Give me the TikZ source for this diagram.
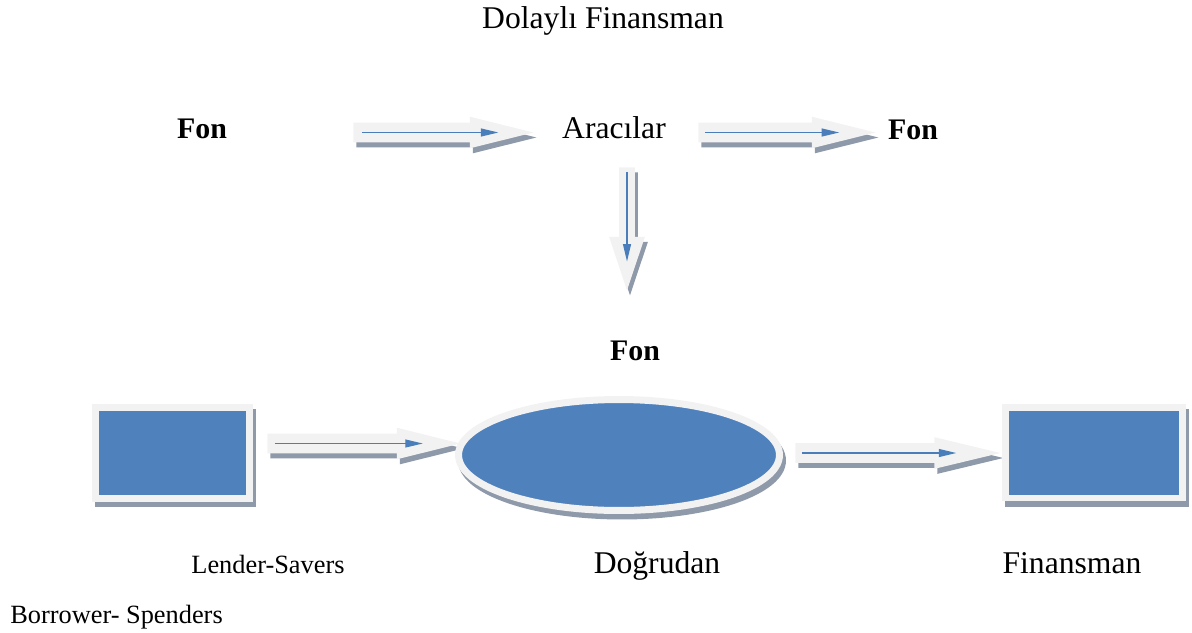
\documentclass[tikz,border=0pt]{standalone}
\usepackage{fontspec}
\setmainfont{Liberation Serif}
\usetikzlibrary{positioning}
\usetikzlibrary{shapes, shapes.arrows, shadows, calc, arrows.meta}

\definecolor{boxblue}{RGB}{79,129,189}
\definecolor{lineblue}{RGB}{74,126,187}
\definecolor{rimgray}{RGB}{242,242,242}
\definecolor{shadegray}{RGB}{142,153,170}

\begin{document}
\begin{tikzpicture}[x=0.02cm,y=-0.02cm,>={Triangle[length=10pt,width=4.5pt]},
  bigtext/.style={font=\fontsize{18}{20}\selectfont},
  fontext/.style={font=\fontsize{17}{19}\selectfont\bfseries},
  smalltext/.style={font=\fontsize{15}{17}\selectfont},
  boxshadow/.style={drop shadow={shadow xshift=0.06cm,shadow yshift=-0.11cm,fill=shadegray,draw=shadegray,line width=0.14cm,opacity=1}},
  block/.style={fill=boxblue,draw=rimgray,line width=0.14cm,inner sep=0pt,boxshadow},
  fat/.style={single arrow,anchor=tail,fill=rimgray,draw=none,inner xsep=0pt,inner ysep=0.19cm,minimum width=0.62cm,
    single arrow head extend=0.12cm,single arrow tip angle=28,
    drop shadow={shadow xshift=0.06cm,shadow yshift=-0.1cm,fill=shadegray,opacity=1}},
  flowline/.style={draw=lineblue,line width=0.8pt,->}]
    \useasboundingbox (0,0) rectangle (1192,632);
    % create the nodes
    \node[bigtext,anchor=base] (title) at (603,29) {Dolaylı Finansman};
    \node[fontext,anchor=base] (fonL) at (202,138) {Fon};
    \node[bigtext,anchor=base] (aracilar) at (614,138) {Aracılar};
    \node[fontext,anchor=base] (fonR) at (913,139) {Fon};
    \node[fontext,anchor=base] (fonM) at (635,360) {Fon};
    % the wide arrows
    \node[fat,minimum height=3.6cm] (a1) at (353,132.5) {};
    \node[fat,minimum height=3.54cm] (a2) at (698,132.5) {};
    \node[fat,minimum height=2.46cm,inner xsep=0.15cm,inner ysep=0pt,minimum width=0.7cm,single arrow head extend=0.2cm,
      single arrow tip angle=37,shape border rotate=270] (a3) at (627,167) {};
    \node[fat,minimum height=3.86cm] (a4) at (267,443.5) {};
    \node[fat,minimum height=4.1cm,single arrow tip angle=27] (a5) at (795,453) {};
    % the boxes
    \node[block,minimum width=3.08cm,minimum height=1.83cm] (lender) at (172.5,452.75) {};
    \node[block,shape=ellipse,minimum width=6.42cm,minimum height=2.22cm] (dogrudan) at (619,455) {};
    \node[block,minimum width=3.54cm,minimum height=1.82cm] (borrower) at (1093.5,452.5) {};
    \node[smalltext,anchor=base] (lenderlbl) at (268,573) {Lender-Savers};
    \node[bigtext,anchor=base] (dogrudanlbl) at (657,573) {Doğrudan};
    \node[bigtext,anchor=base] (finansman) at (1072,573) {Finansman};
    \node[smalltext,anchor=base west,inner xsep=0pt] (borrowerlbl) at (10,623) {Borrower- Spenders};
    % blue lines inside the arrows
    \draw[flowline] ($(a1.tail)!0.05!(a1.tip)$) -- ($(a1.tail)!0.8!(a1.tip)$);
    \draw[flowline] ($(a2.tail)!0.04!(a2.tip)$) -- ($(a2.tail)!0.79!(a2.tip)$);
    \draw[flowline] ($(a3.tail)!0.04!(a3.tip)$) -- ($(a3.tail)!0.76!(a3.tip)$);
    \draw[flowline] ($(a4.tail)!0.04!(a4.tip)$) -- ($(a4.tail)!0.8!(a4.tip)$);
    \draw[flowline] ($(a5.tail)!0.035!(a5.tip)$) -- ($(a5.tail)!0.78!(a5.tip)$);
\end{tikzpicture}
\end{document}
